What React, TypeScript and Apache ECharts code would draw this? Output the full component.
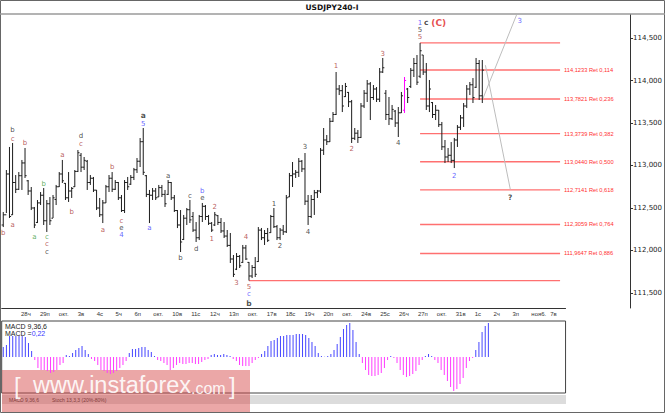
import React, { useEffect, useRef } from "react";
import * as echarts from "echarts";

// USDJPY H4 bars, oldest first
const highs = [
  112.453, 112.947, 113.218, 113.265, 112.888, 112.923, 113.065, 113.206, 112.829, 112.747,
  112.512, 112.594, 112.688, 112.735, 112.594, 112.629, 112.653, 112.771, 112.923, 113.065,
  112.794, 112.923, 112.747, 112.947, 113.182, 113.147, 113.1, 113.065, 112.888, 112.865,
  112.712, 112.618, 112.594, 112.771, 112.888, 112.923, 112.829, 112.806, 112.653, 112.829,
  112.865, 112.888, 112.971, 113.088, 113.323, 113.441, 112.888, 112.712, 112.735, 112.735,
  112.771, 112.771, 112.712, 112.829, 112.806, 112.653, 112.476, 112.476, 112.418, 112.5,
  112.594, 112.453, 112.335, 112.418, 112.559, 112.535, 112.418, 112.335, 112.453, 112.418,
  112.382, 112.335, 112.241, 112.206, 111.947, 111.97, 111.947, 112.065, 112.065, 111.865,
  111.829, 111.923, 112.276, 112.265, 112.241, 112.265, 112.418, 112.5, 112.3, 112.265,
  112.3, 112.653, 112.912, 113.041, 112.947, 113.088, 113.065, 113.147, 112.653, 112.653,
  112.712, 112.712, 113.206, 113.441, 113.359, 113.559, 113.629, 114.1, 113.947, 113.947,
  113.971, 113.865, 113.771, 113.441, 113.418, 113.735, 113.888, 114.006, 113.982, 113.947,
  113.923, 114.147, 114.265, 113.888, 113.806, 113.712, 113.653, 113.688, 113.865, 114.041,
  113.912, 114.147, 114.265, 114.3, 114.442, 114.3, 114.206, 114.006, 113.747, 113.712,
  113.653, 113.512, 113.3, 113.206, 113.276, 113.324, 113.476, 113.594, 113.735, 113.947,
  113.982, 114.029, 114.265, 114.241, 114.241,
];
const lows = [
  112.276, 112.441, 112.382, 112.418, 112.676, 112.712, 112.712, 112.853, 112.653, 112.476,
  112.264, 112.323, 112.535, 112.3, 112.218, 112.3, 112.382, 112.535, 112.747, 112.794,
  112.594, 112.571, 112.618, 112.747, 112.923, 112.923, 112.947, 112.712, 112.771, 112.688,
  112.476, 112.394, 112.323, 112.559, 112.688, 112.688, 112.712, 112.594, 112.453, 112.441,
  112.712, 112.771, 112.829, 112.912, 112.982, 112.888, 112.629, 112.323, 112.594, 112.594,
  112.629, 112.629, 112.512, 112.653, 112.594, 112.453, 112.264, 111.982, 112.123, 112.3,
  112.323, 112.218, 112.1, 112.123, 112.335, 112.359, 112.3, 112.218, 112.288, 112.3,
  112.206, 112.147, 112.041, 111.853, 111.688, 111.77, 111.794, 111.853, 111.888, 111.646,
  111.676, 111.688, 111.865, 112.123, 112.065, 112.1, 112.206, 112.265, 112.123, 112.123,
  112.182, 112.206, 112.629, 112.747, 112.853, 112.865, 112.923, 112.535, 112.3, 112.382,
  112.418, 112.618, 112.676, 113.124, 113.241, 113.276, 113.512, 113.594, 113.829, 113.629,
  113.806, 113.688, 113.265, 113.3, 113.265, 113.323, 113.676, 113.747, 113.535, 113.771,
  113.747, 113.747, 114.088, 113.535, 113.476, 113.535, 113.453, 113.335, 113.618, 113.618,
  113.735, 113.912, 114.041, 113.947, 114.029, 114.065, 113.653, 113.629, 113.559, 113.535,
  113.453, 113.182, 113.029, 113.041, 113.029, 112.97, 113.218, 113.418, 113.453, 113.676,
  113.829, 113.735, 113.912, 113.771, 113.735,
];
const opens = [
  112.3, 112.42, 112.9, 112.42, 112.8, 112.72, 112.88, 113.03, 112.82, 112.7,
  112.5, 112.33, 112.56, 112.65, 112.35, 112.55, 112.38, 112.6, 112.75, 112.9,
  112.79, 112.62, 112.7, 112.75, 112.93, 113.12, 112.98, 113.05, 112.8, 112.85,
  112.71, 112.5, 112.42, 112.56, 112.75, 112.85, 112.72, 112.8, 112.62, 112.47,
  112.8, 112.78, 112.86, 112.95, 113.05, 113.28, 112.88, 112.66, 112.65, 112.7,
  112.63, 112.74, 112.66, 112.66, 112.8, 112.62, 112.47, 112.3, 112.13, 112.38,
  112.48, 112.4, 112.24, 112.15, 112.4, 112.52, 112.4, 112.32, 112.3, 112.41,
  112.33, 112.23, 112.17, 112.06, 111.9, 111.78, 111.93, 111.86, 112.03, 111.86,
  111.7, 111.8, 111.87, 112.24, 112.15, 112.2, 112.21, 112.4, 112.28, 112.15,
  112.24, 112.22, 112.63, 112.88, 112.9, 112.92, 113.05, 112.96, 112.58, 112.4,
  112.6, 112.68, 112.7, 113.18, 113.3, 113.28, 113.52, 113.6, 113.9, 113.88,
  113.81, 113.86, 113.75, 113.32, 113.38, 113.33, 113.7, 113.85, 113.96, 113.8,
  113.9, 113.78, 114.1, 113.85, 113.6, 113.55, 113.64, 113.5, 113.62, 113.65,
  113.9, 113.93, 114.12, 114.2, 114.05, 114.3, 114.1, 113.7, 113.74, 113.6,
  113.65, 113.48, 113.22, 113.1, 113.12, 113.06, 113.3, 113.45, 113.56, 113.7,
  113.9, 113.95, 113.92, 114.2, 113.82,
];
const closes = [
  112.42, 112.9, 112.4, 112.8, 112.72, 112.88, 113.03, 112.88, 112.7, 112.5,
  112.3, 112.56, 112.65, 112.35, 112.55, 112.35, 112.62, 112.75, 112.9, 112.82,
  112.62, 112.7, 112.73, 112.93, 113.15, 112.98, 113.06, 112.8, 112.85, 112.71,
  112.5, 112.42, 112.56, 112.75, 112.85, 112.72, 112.8, 112.62, 112.47, 112.8,
  112.75, 112.86, 112.95, 113.05, 113.28, 112.92, 112.66, 112.65, 112.7, 112.62,
  112.74, 112.66, 112.55, 112.8, 112.62, 112.47, 112.3, 112.1, 112.38, 112.48,
  112.36, 112.24, 112.15, 112.4, 112.52, 112.4, 112.32, 112.24, 112.42, 112.33,
  112.23, 112.17, 112.06, 111.9, 111.72, 111.93, 111.82, 112.03, 111.9, 111.7,
  111.8, 111.72, 112.24, 112.15, 112.2, 112.12, 112.4, 112.28, 112.15, 112.24,
  112.22, 112.62, 112.88, 112.9, 112.92, 113.05, 112.96, 112.58, 112.4, 112.6,
  112.68, 112.7, 113.18, 113.3, 113.28, 113.52, 113.6, 113.9, 113.88, 113.7,
  113.93, 113.75, 113.32, 113.38, 113.33, 113.7, 113.85, 113.96, 113.8, 113.9,
  113.78, 114.1, 114.15, 113.6, 113.55, 113.66, 113.5, 113.62, 113.82, 114.0,
  113.8, 114.12, 114.2, 113.98, 114.35, 114.1, 113.7, 113.9, 113.6, 113.65,
  113.48, 113.22, 113.1, 113.12, 113.06, 113.3, 113.45, 113.56, 113.7, 113.9,
  113.95, 113.8, 114.2, 113.82, 114.122,
];
const highlightBar = 129;

// MACD 9,36,6 histogram
const macd = [
  0.065, 0.078, 0.137, 0.137, 0.137, 0.137, 0.137, 0.13, 0.091, 0.039,
  -0.02, -0.072, -0.085, -0.085, -0.091, -0.104, -0.098, -0.085, -0.052, -0.039,
  0.013, 0.007, 0.026, 0.046, 0.059, 0.072, 0.046, 0.02,
  -0.013, -0.026, -0.052, -0.085, -0.091, -0.104, -0.111, -0.104, -0.091, -0.072, -0.052, -0.026,
  0.026, 0.052, 0.052, 0.059, 0.065, 0.065, 0.046, 0.033, 0.007,
  -0.02, -0.026, -0.039, -0.052, -0.085, -0.072, -0.052, -0.039, -0.046, -0.046, -0.039, -0.039, -0.046, -0.046, -0.033, -0.02, -0.013,
  0.013, 0.02, 0.013, 0.013, 0.02, 0.013, 0.007,
  -0.013, -0.026, -0.052, -0.059, -0.059, -0.059, -0.039, -0.02, -0.007,
  0.02, 0.039, 0.072, 0.104, 0.111, 0.124, 0.137, 0.137, 0.143, 0.143, 0.143, 0.15, 0.15, 0.15, 0.143, 0.124, 0.098, 0.072, 0.026, 0.007,
  0.002, 0.007,
  0.02, 0.046, 0.085, 0.13, 0.182, 0.208, 0.221, 0.176, 0.098, 0.02,
  -0.039, -0.085, -0.117, -0.124, -0.124, -0.117, -0.104, -0.072, -0.02,
  0.007, -0.007,
  -0.039, -0.085, -0.117, -0.13, -0.124, -0.111, -0.091, -0.052, -0.02,
  0.007, 0.02, 0.007,
  -0.02, -0.039, -0.085, -0.117, -0.156, -0.195, -0.221, -0.208, -0.176, -0.137, -0.072, -0.026,
  -0.007, 0.046, 0.098, 0.163, 0.202, 0.221,
];

const dayLabels = [
  "28ч", "29п", "окт.", "3в", "4с", "5ч", "6п", "окт.", "10в", "11с", "12ч", "13п", "окт.",
  "17в", "18с", "19ч", "20п", "окт.", "24в", "25с", "26ч", "27п", "окт.", "31в", "1с",
  "2ч", "3п", "ноя6.", "7в",
];
const priceTicks = [111.5, 112, 112.5, 113, 113.5, 114, 114.5];

const swingHigh = 114.442;
const swingLow = 111.646;
const lastPrice = 114.122;
const fibLevels = [114.1233, 113.7821, 113.3739, 113.044, 112.7141, 112.3059, 111.9647];
const fibRatios = ["0,114", "0,236", "0,382", "0,500", "0,618", "0,764", "0,886"];

const pathUp = [[154, 113.77], [165, 114.77]];
const pathDown = [[155, 114.18], [163, 112.72]];

// [bar index, price, text, colour, bold]
const waveLabels: [number, number, string, string, boolean][] = [
  [3, 113.418, "b", "k", false],
  [3, 113.312, "c", "r", false],
  [7, 113.265, "b", "r", false],
  [19, 113.124, "a", "r", false],
  [25, 113.347, "d", "k", false],
  [25, 113.253, "c", "r", false],
  [45, 113.594, "a", "k", true],
  [45, 113.488, "5", "u", false],
  [97, 113.218, "3", "k", false],
  [133.6, 114.682, "1", "u", false],
  [136.1, 114.682, "c", "k", true],
  [133.9, 114.6, "5", "k", false],
  [133.9, 114.512, "5", "r", false],
  [121.8, 114.312, "3", "r", false],
  [106.9, 114.17, "1", "r", false],
  [112, 113.194, "2", "r", false],
  [126.9, 113.265, "4", "k", false],
  [166, 114.7, "3", "u", false],
  [0, 112.206, "b", "r", false],
  [3.1, 112.3, "a", "r", false],
  [10.1, 112.159, "a", "g", false],
  [12.9, 112.782, "b", "g", false],
  [13.9, 112.159, "c", "g", false],
  [13.9, 112.071, "c", "r", false],
  [13.9, 111.982, "c", "k", false],
  [22.1, 112.453, "b", "r", false],
  [32, 112.241, "a", "r", false],
  [34.8, 112.982, "b", "r", false],
  [38, 112.347, "c", "r", false],
  [38, 112.265, "e", "k", false],
  [38, 112.182, "4", "u", false],
  [47.2, 112.265, "a", "u", false],
  [53.2, 112.876, "a", "k", false],
  [57, 111.912, "b", "k", false],
  [59.9, 112.641, "c", "k", false],
  [64, 112.7, "b", "u", false],
  [64, 112.612, "e", "k", false],
  [62.1, 112.018, "d", "k", false],
  [67.8, 112.512, "2", "r", false],
  [66.9, 112.135, "1", "r", false],
  [78, 112.159, "4", "r", false],
  [74.8, 111.618, "3", "r", false],
  [79, 111.571, "5", "r", false],
  [79, 111.488, "c", "u", false],
  [79, 111.382, "b", "k", true],
  [86.9, 112.547, "1", "k", false],
  [88.8, 112.053, "2", "k", false],
  [98, 112.218, "4", "k", false],
  [145, 112.876, "2", "u", false],
  [163.1, 112.618, "?", "k", true],
];
const labelColors: Record<string, string> = {
  k: "#222222",
  r: "#a83232",
  g: "#3a9a3a",
  u: "#3b3bff",
};

const FONT = "DejaVu Sans";
const BAR_W = 3.15;
const MAIN_SLOTS = 202;
const DATE_SLOTS = 179;
const FIB_START = 134;
const FIB_END = 179;
const LOW_START = 79;

const comma = (v: number, d: number) => v.toFixed(d).replace(".", ",");
const dayTick = (i: number) => i >= 5 && (i - 5) % 6 === 0;

const App = () => {
  const chartRef = useRef<HTMLDivElement>(null);

  useEffect(() => {
    if (!chartRef.current) return;
    document.body.style.margin = "0";
    const chart = echarts.init(chartRef.current, undefined, { renderer: "svg" });

    const bars = highs.map((h, i) => [i, opens[i], closes[i], lows[i], h]);
    const slotsMain = Array.from({ length: MAIN_SLOTS }, (_, i) => String(i));
    const slotsDate = Array.from({ length: DATE_SLOTS }, (_, i) => String(i));

    const levelLine = (level: number, start: number, label?: string) => ({
      type: "line",
      xAxisIndex: 0,
      yAxisIndex: 0,
      data: [
        [start, level],
        [FIB_END, level],
      ],
      showSymbol: false,
      silent: true,
      lineStyle: { color: "#ff7070", width: 1.3 },
      endLabel: label
        ? {
            show: true,
            formatter: label,
            color: "#ff3030",
            fontSize: 5.7,
            fontFamily: "Liberation Sans",
            distance: 4,
          }
        : { show: false },
      z: 1,
    });

    const option: any = {
      animation: false,
      backgroundColor: "#ffffff",
      grid: [
        { left: 1.7, top: 15, width: MAIN_SLOTS * BAR_W, height: 293 },
        {
          left: 1.7,
          top: 321,
          width: DATE_SLOTS * BAR_W,
          height: 72,
          show: true,
          borderColor: "#444",
          borderWidth: 1,
          backgroundColor: "#fff",
        },
        { left: 1.7, top: 307.5, width: DATE_SLOTS * BAR_W, height: 1 },
      ],
      xAxis: [
        { type: "category", gridIndex: 0, data: slotsMain, show: false },
        { type: "category", gridIndex: 1, data: slotsDate, show: false },
        {
          type: "category",
          gridIndex: 2,
          data: slotsDate,
          position: "bottom",
          axisLine: { lineStyle: { color: "#333", width: 1 } },
          axisTick: {
            alignWithLabel: true,
            interval: (i: number) => dayTick(i),
            length: 3,
            lineStyle: { color: "#333" },
          },
          axisLabel: {
            interval: (i: number) => dayTick(i),
            formatter: (_v: string, i: number) => dayLabels[(i - 5) / 6] ?? "",
            align: "left",
            padding: [0, 0, 0, 2],
            margin: 2,
            fontSize: 6,
            fontFamily: "Liberation Sans",
            color: "#333",
          },
        },
      ],
      yAxis: [
        {
          type: "value",
          gridIndex: 0,
          position: "right",
          min: 111.3235,
          max: 114.7706,
          splitLine: { show: false },
          axisLine: { show: true, lineStyle: { color: "#333" } },
          axisTick: {
            show: true,
            length: 3,
            customValues: priceTicks,
            lineStyle: { color: "#333" },
          },
          axisLabel: {
            customValues: priceTicks,
            formatter: (v: number) => comma(v, 3),
            margin: 3,
            fontSize: 7,
            fontFamily: FONT,
            color: "#222",
          },
        },
        { type: "value", gridIndex: 1, min: -0.234, max: 0.234, show: false },
        { type: "value", gridIndex: 2, min: 0, max: 1, show: false },
      ],
      series: [
        {
          type: "custom",
          name: "USDJPY240",
          xAxisIndex: 0,
          yAxisIndex: 0,
          data: bars,
          encode: { x: 0, y: [1, 2, 3, 4] },
          renderItem: (_p: any, api: any) => {
            const i = api.value(0);
            const o = api.coord([i, api.value(1)]);
            const c = api.coord([i, api.value(2)]);
            const l = api.coord([i, api.value(3)]);
            const h = api.coord([i, api.value(4)]);
            const style = { stroke: i === highlightBar ? "#ff00ff" : "#1c1c1c", lineWidth: 1 };
            return {
              type: "group",
              children: [
                { type: "line", shape: { x1: h[0], y1: h[1], x2: l[0], y2: l[1] }, style },
                { type: "line", shape: { x1: o[0] - 1.6, y1: o[1], x2: o[0], y2: o[1] }, style },
                { type: "line", shape: { x1: c[0], y1: c[1], x2: c[0] + 1.6, y2: c[1] }, style },
              ],
            };
          },
          markLine: {
            silent: true,
            symbol: "none",
            lineStyle: { opacity: 0 },
            label: {
              show: true,
              position: "end",
              formatter: comma(lastPrice, 3),
              backgroundColor: "#ffff00",
              color: "#000",
              fontSize: 7,
              fontFamily: FONT,
              padding: [2, 3],
              distance: 1,
            },
            data: [{ yAxis: lastPrice }],
          },
          z: 3,
        },
        levelLine(swingHigh, FIB_START),
        ...fibLevels.map((lv, k) =>
          levelLine(lv, FIB_START, `${comma(lv, 4)} Ret ${fibRatios[k]}`)
        ),
        levelLine(swingLow, LOW_START),
        ...[pathUp, pathDown].map((d) => ({
          type: "line",
          xAxisIndex: 0,
          yAxisIndex: 0,
          data: d,
          showSymbol: false,
          silent: true,
          lineStyle: { color: "#bdbdbd", width: 1 },
          z: 2,
        })),
        {
          type: "scatter",
          xAxisIndex: 0,
          yAxisIndex: 0,
          symbolSize: 1,
          itemStyle: { color: "transparent" },
          silent: true,
          data: waveLabels.map(([x, y, t, c, b]) => ({
            value: [x, y],
            label: {
              show: true,
              position: "inside",
              formatter: t,
              color: labelColors[c],
              fontWeight: b ? "bold" : "normal",
              fontSize: b ? 7.5 : 7,
              lineHeight: 7,
              fontFamily: FONT,
            },
          })),
          z: 5,
        },
        {
          type: "scatter",
          xAxisIndex: 0,
          yAxisIndex: 0,
          symbolSize: 1,
          itemStyle: { color: "transparent" },
          silent: true,
          data: [
            {
              value: [139.8, 114.682],
              label: {
                show: true,
                position: "inside",
                formatter: "(C)",
                color: "#e02020",
                fontWeight: "bold",
                fontSize: 9,
                fontFamily: FONT,
              },
            },
          ],
          z: 5,
        },
        {
          type: "bar",
          name: "MACD",
          xAxisIndex: 1,
          yAxisIndex: 1,
          data: macd,
          barWidth: 1,
          itemStyle: {
            color: (p: any) => (p.value >= 0 ? "#4646ff" : "#ff3cff"),
          },
          silent: true,
        },
      ],
      graphic: [
        {
          type: "rect",
          shape: { x: 0.5, y: 0.5, width: 664, height: 412 },
          style: { fill: "none", stroke: "#666", lineWidth: 1 },
          silent: true,
        },
        {
          type: "line",
          shape: { x1: 0, y1: 14, x2: 665, y2: 14 },
          style: { stroke: "#9a9a9a", lineWidth: 1.5 },
          silent: true,
        },
        {
          type: "text",
          x: 332,
          y: 7.5,
          style: {
            text: "USDJPY240-I",
            fill: "#111",
            font: `bold 7.5px "${FONT}"`,
            align: "center",
            verticalAlign: "middle",
          },
          silent: true,
        },
        {
          type: "text",
          x: 5,
          y: 326,
          style: {
            text: "MACD 9,36,6",
            fill: "#222",
            font: '7px "Liberation Sans"',
            verticalAlign: "middle",
          },
          silent: true,
        },
        {
          type: "text",
          x: 5,
          y: 333.5,
          style: {
            text: "MACD ={v|0,22}",
            fill: "#222",
            font: '7px "Liberation Sans"',
            verticalAlign: "middle",
            rich: { v: { fill: "#3b3bff", font: '7px "Liberation Sans"' } },
          },
          silent: true,
        },
        {
          type: "rect",
          shape: { x: 2, y: 395, width: 564, height: 9 },
          style: { fill: "#dcdcdc" },
          silent: true,
        },
        {
          type: "text",
          x: 9,
          y: 399.5,
          style: {
            text: "MACD 9,36,6",
            fill: "#333",
            font: '5px "Liberation Sans"',
            verticalAlign: "middle",
          },
          silent: true,
        },
        {
          type: "text",
          x: 52,
          y: 399.5,
          style: {
            text: "Stoch 13,3,3 (20%-80%)",
            fill: "#333",
            font: '5px "Liberation Sans"',
            verticalAlign: "middle",
          },
          silent: true,
        },
        {
          type: "group",
          z: 100,
          silent: true,
          children: [
            {
              type: "rect",
              shape: { x: 2, y: 370, width: 248, height: 42 },
              style: { fill: "rgba(214,72,72,0.48)" },
            },
            {
              type: "text",
              x: 14,
              y: 397,
              style: {
                text: "[",
                fill: "rgba(255,255,255,0.9)",
                font: '24px "Liberation Sans"',
                verticalAlign: "bottom",
              },
            },
            {
              type: "text",
              x: 33,
              y: 397,
              style: {
                text: "www.instaforex",
                fill: "rgba(255,255,255,0.9)",
                font: '23.5px "Liberation Sans"',
                verticalAlign: "bottom",
              },
            },
            {
              type: "text",
              x: 191,
              y: 396,
              style: {
                text: ".com",
                fill: "rgba(255,255,255,0.9)",
                font: '16px "Liberation Sans"',
                verticalAlign: "bottom",
              },
            },
            {
              type: "text",
              x: 229,
              y: 397,
              style: {
                text: "]",
                fill: "rgba(255,255,255,0.9)",
                font: '24px "Liberation Sans"',
                verticalAlign: "bottom",
              },
            },
          ],
        },
      ],
    };

    chart.setOption(option);
    return () => chart.dispose();
  }, []);

  return (
    <div
      ref={chartRef}
      style={{ position: "absolute", left: 0, top: 0, width: 665, height: 413 }}
    />
  );
};

export default App;
